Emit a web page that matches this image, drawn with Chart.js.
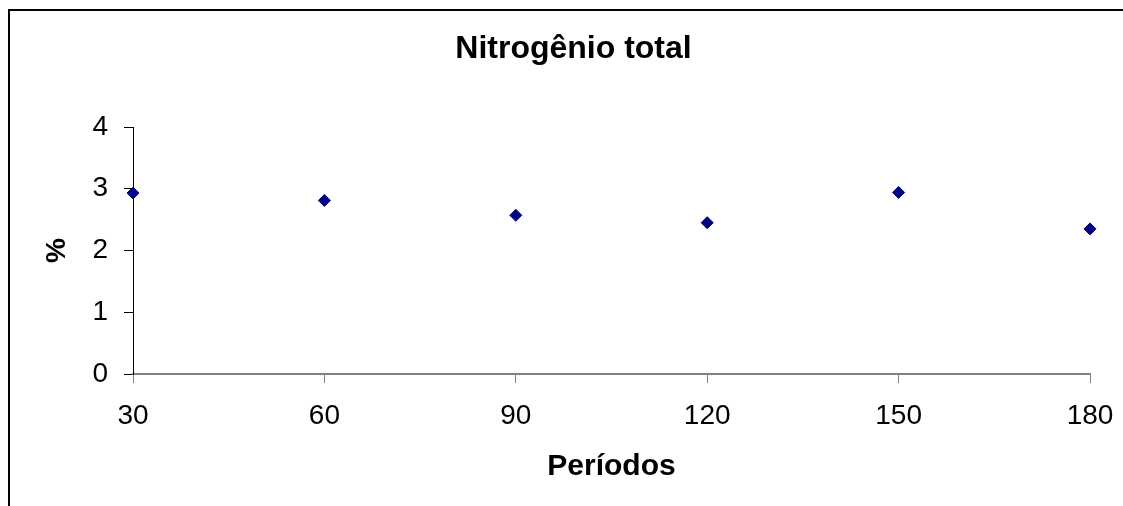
<!DOCTYPE html>
<html lang="pt">
<head>
<meta charset="utf-8">
<title>Nitrogênio total</title>
<script src="https://cdn.jsdelivr.net/npm/chart.js@4.4.1/dist/chart.umd.min.js"></script>
<style>
  html, body { margin: 0; padding: 0; background: #fff; }
  #wrap { width: 1123px; height: 506px; }
</style>
</head>
<body>
<div id="wrap"><canvas id="scatter-chart"></canvas></div>
<script>
// periods (days) and total nitrogen (%)
const periodos = [30, 60, 90, 120, 150, 180];
const nitrogenio = [2.93, 2.81, 2.57, 2.45, 2.94, 2.35];

const FONT = "'Liberation Sans', Arial, Helvetica, sans-serif";

// outer frame of the chart object (only its left and top edges fall inside the canvas)
const framePlugin = {
  id: 'frame',
  beforeDraw(chart) {
    const ctx = chart.ctx;
    ctx.save();
    ctx.fillStyle = '#fff';
    ctx.fillRect(0, 0, chart.width, chart.height);
    ctx.strokeStyle = '#000';
    ctx.lineWidth = 2;
    ctx.beginPath();
    ctx.moveTo(9, chart.height + 5);
    ctx.lineTo(9, 10);
    ctx.lineTo(chart.width + 5, 10);
    ctx.stroke();
    ctx.restore();
  }
};

new Chart(document.getElementById("scatter-chart"), {
  type: 'scatter',
  data: {
    datasets: [{
      data: periodos.map((p, i) => ({x: p, y: nitrogenio[i]})),
      pointStyle: 'rectRot',
      pointRadius: 6,
      borderWidth: 1,
      backgroundColor: '#000080',
      borderColor: '#000080',
      clip: false
    }]
  },
  options: {
    responsive: true,
    maintainAspectRatio: false,
    animation: false,
    // left padding keeps the title centred on the full frame, which runs past the right edge
    layout: { padding: { left: 57, right: 33, top: 0, bottom: 0 } },
    plugins: {
      legend: { display: false },
      tooltip: { enabled: false },
      title: {
        display: true,
        text: 'Nitrogênio total',
        color: '#000',
        font: { family: FONT, size: 32, weight: 'bold' },
        padding: { top: 30, bottom: 58.6 }
      }
    },
    scales: {
      x: {
        type: 'linear',
        min: 30,
        max: 180,
        afterFit: s => { s.height = 132; },
        ticks: {
          stepSize: 30,
          color: '#000',
          padding: 8,
          // taller line box pushes the labels down without widening the side padding
          font: { family: FONT, size: 28, lineHeight: 1.84 }
        },
        grid: { drawOnChartArea: false, drawTicks: true, tickLength: 9, color: '#808080' },
        border: { display: true, color: '#808080', width: 2 },
        title: {
          display: true,
          text: 'Períodos',
          color: '#000',
          font: { family: FONT, size: 30, weight: 'bold' },
          padding: { top: 0, bottom: 21 }
        }
      },
      y: {
        min: 0,
        max: 4,
        afterFit: s => { s.width = 76; },
        ticks: {
          stepSize: 1,
          color: '#000',
          padding: 16,
          font: { family: FONT, size: 28 }
        },
        grid: { drawOnChartArea: false, drawTicks: true, tickLength: 9, color: '#000' },
        border: { display: true, color: '#000', width: 1 },
        title: {
          display: true,
          text: '%',
          color: '#000',
          font: { family: FONT, size: 28, weight: 'bold' },
          padding: { top: -17, bottom: 0 }
        }
      }
    }
  },
  plugins: [framePlugin]
});
</script>
</body>
</html>
